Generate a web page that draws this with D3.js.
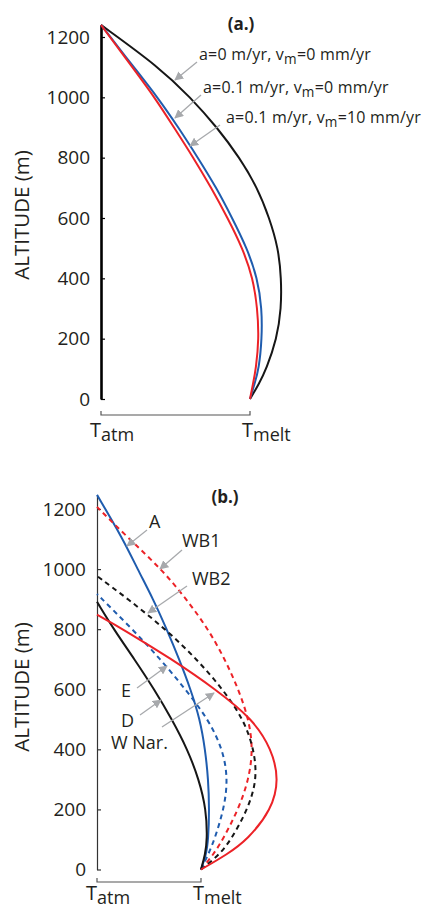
<!DOCTYPE html>
<html lang="en">
<head>
  <meta charset="UTF-8">
  <title>Altitude temperature profiles</title>
  <style>
    body { margin: 0; background: #fff; }
    text { font-family: "Open Sans", "DejaVu Sans", sans-serif; fill: #231f20; }
  </style>
</head>
<body>
  <div id="svg"></div>
</body>
<script src="https://cdn.jsdelivr.net/npm/d3@7"></script>
<script type="text/javascript">
  // 高度刻度
  const altTicks = [0, 200, 400, 600, 800, 1000, 1200]

  // (a.) 三条曲线，温度按 Tatm=0, Tmelt=1 归一化
  const altA = [0, 50, 100, 200, 300, 400, 500, 600, 700, 800, 900, 1000, 1100, 1240]
  const tempA0 = [1.0, 1.06, 1.11, 1.18, 1.21, 1.21, 1.19, 1.13, 1.05, 0.93, 0.78, 0.60, 0.39, 0]
  const tempA1 = [1.0, 1.03, 1.06, 1.08, 1.08, 1.05, 0.98, 0.88, 0.775, 0.65, 0.52, 0.38, 0.22, 0]
  const tempA2 = [1.0, 1.02, 1.04, 1.06, 1.05, 1.02, 0.95, 0.85, 0.74, 0.62, 0.49, 0.36, 0.21, 0]

  // (b.) 各冰川
  const altBA = [0, 50, 100, 200, 300, 400, 500, 600, 700, 800, 900, 1000, 1100, 1247]
  const tempBA = [1.0, 1.05, 1.07, 1.08, 1.07, 1.04, 0.99, 0.90, 0.79, 0.67, 0.54, 0.39, 0.25, 0]
  const altBWB1 = [0, 50, 100, 200, 300, 400, 500, 600, 700, 800, 900, 1000, 1100, 1207]
  const tempBWB1 = [1.0, 1.12, 1.21, 1.36, 1.46, 1.50, 1.46, 1.36, 1.23, 1.07, 0.86, 0.62, 0.31, 0]
  const altBWB2 = [0, 50, 100, 200, 300, 400, 500, 600, 700, 800, 900, 977]
  const tempBWB2 = [1.0, 1.18, 1.29, 1.45, 1.54, 1.51, 1.41, 1.21, 0.96, 0.66, 0.30, 0]
  const altBE = [0, 50, 100, 200, 300, 400, 500, 600, 700, 800, 917]
  const tempBE = [1.0, 1.07, 1.13, 1.22, 1.26, 1.21, 1.07, 0.85, 0.61, 0.34, 0]
  const altBD = [0, 50, 100, 200, 300, 400, 500, 600, 700, 800, 891]
  const tempBD = [1.0, 1.04, 1.06, 1.05, 0.98, 0.87, 0.72, 0.55, 0.36, 0.16, 0]
  const altBW = [0, 50, 100, 200, 300, 400, 500, 600, 700, 800, 848]
  const tempBW = [1.0, 1.25, 1.45, 1.68, 1.75, 1.68, 1.50, 1.14, 0.72, 0.25, 0]

  const blue = "#1f5cae", red = "#ec2227", black = "#161616", gray = "#a7a9ac"

  const width = 438, height = 910
  const svg = d3.select("#svg").append("svg").attr("width", width).attr("height", height)

  svg.append("defs").append("marker")
    .attr("id", "arr").attr("viewBox", "0 0 10 10").attr("refX", 9).attr("refY", 5)
    .attr("markerWidth", 9).attr("markerHeight", 9).attr("markerUnits", "userSpaceOnUse")
    .attr("orient", "auto")
    .append("path").attr("d", "M0,0 L10,5 L0,10 Z").attr("fill", gray)

  const zip = (alt, temp) => alt.map((a, i) => ({ alt: a, t: temp[i] }))

  // 画一个面板
  const drawPanel = (p) => {
    const x = d3.scaleLinear().domain([0, 1]).range(p.xRange)
    const y = d3.scaleLinear().domain([0, p.top]).range([p.y0, p.y0 - p.top * p.k])
    const g = svg.append("g")

    const axis = d3.axisLeft(y).tickValues(altTicks).tickFormat(d3.format("d"))
      .tickSizeInner(-4).tickSizeOuter(0).tickPadding(11)
    const ax = g.append("g").attr("transform", `translate(${x(0)},0)`).call(axis)
    ax.select(".domain").attr("stroke", p.axisColor).attr("stroke-width", p.axisWidth)
    ax.selectAll(".tick line").attr("stroke", p.axisColor).attr("stroke-width", 1.2)
    ax.selectAll(".tick text").attr("font-size", 19).attr("font-family", null).attr("fill", "#231f20")

    g.append("text")
      .attr("transform", `translate(${p.titleX},${p.titleY}) rotate(-90)`)
      .attr("text-anchor", "middle").attr("font-size", 20.5).text("ALTITUDE (m)")

    // 底部括号
    const by = p.bracketY
    g.append("path")
      .attr("d", `M${x(0)},${by - 4}V${by}H${x(1)}V${by - 4}`)
      .attr("fill", "none").attr("stroke", "#555").attr("stroke-width", 1.2)

    const tLabel = (px, sub) => {
      const t = g.append("text").attr("x", px).attr("y", p.labelY).attr("font-size", 20)
      t.append("tspan").text("T")
      t.append("tspan").attr("dy", 4).attr("font-size", 18).text(sub)
    }
    tLabel(x(0) - 11, "atm")
    tLabel(x(1) - 8, "melt")

    g.append("text").attr("x", p.panelX).attr("y", p.panelY)
      .attr("text-anchor", "middle").attr("font-size", 17).attr("font-weight", "bold").text(p.panel)

    const line = d3.line().x(d => x(d.t)).y(d => y(d.alt)).curve(d3.curveBasis)
    p.series.forEach(s => {
      g.append("path").datum(zip(s.alt, s.temp))
        .attr("d", line).attr("fill", "none")
        .attr("stroke", s.color).attr("stroke-width", 2)
        .attr("stroke-dasharray", s.dash ? "5,4" : null)
    })

    p.notes.forEach(n => {
      g.append("line")
        .attr("x1", n.from[0]).attr("y1", n.from[1]).attr("x2", n.to[0]).attr("y2", n.to[1])
        .attr("stroke", gray).attr("stroke-width", 1.3).attr("marker-end", "url(#arr)")
      const t = g.append("text").attr("x", n.x).attr("y", n.y).attr("font-size", n.size)
      if (n.sub) {
        t.attr("letter-spacing", 0.2)
        t.append("tspan").text(n.text[0])
        t.append("tspan").attr("dy", 4).attr("font-size", n.size * 0.85).text("m")
        t.append("tspan").attr("dy", -4).text(n.text[1])
      } else {
        t.text(n.text)
      }
    })
  }

  drawPanel({
    top: 1240, y0: 399, k: 362 / 1200, xRange: [101, 250],
    axisColor: "#000", axisWidth: 2.6, titleX: 29, titleY: 215,
    bracketY: 415, labelY: 437, panel: "(a.)", panelX: 241, panelY: 30,
    series: [
      { alt: altA, temp: tempA0, color: black },
      { alt: altA, temp: tempA1, color: blue },
      { alt: altA, temp: tempA2, color: red }
    ],
    notes: [
      { text: ["a=0 m/yr, v", "=0 mm/yr"], sub: true, x: 199, y: 60, size: 16, from: [197, 62], to: [175, 80] },
      { text: ["a=0.1 m/yr, v", "=0 mm/yr"], sub: true, x: 203, y: 93, size: 16, from: [201, 95], to: [175, 118] },
      { text: ["a=0.1 m/yr, v", "=10 mm/yr"], sub: true, x: 226, y: 123, size: 16, from: [220, 125], to: [190, 146] }
    ]
  })

  drawPanel({
    top: 1247, y0: 869.5, k: 360.5 / 1200, xRange: [97, 201],
    axisColor: "#333", axisWidth: 1.2, titleX: 29, titleY: 687,
    bracketY: 882, labelY: 900, panel: "(b.)", panelX: 225, panelY: 503,
    series: [
      { alt: altBA, temp: tempBA, color: blue },
      { alt: altBWB1, temp: tempBWB1, color: red, dash: true },
      { alt: altBWB2, temp: tempBWB2, color: black, dash: true },
      { alt: altBE, temp: tempBE, color: blue, dash: true },
      { alt: altBD, temp: tempBD, color: black },
      { alt: altBW, temp: tempBW, color: red }
    ],
    notes: [
      { text: "A", x: 149, y: 528, size: 18, from: [147, 530], to: [127, 546] },
      { text: "WB1", x: 182, y: 547, size: 18, from: [182, 550], to: [160, 569] },
      { text: "WB2", x: 192, y: 585, size: 18, from: [187, 586], to: [148, 613] },
      { text: "E", x: 121, y: 697, size: 18, from: [137, 688], to: [167, 666] },
      { text: "D", x: 121, y: 727, size: 18, from: [140, 715], to: [161, 700] },
      { text: "W Nar.", x: 111, y: 749, size: 18, from: [162, 727], to: [214, 693] }
    ]
  })
</script>
</html>
